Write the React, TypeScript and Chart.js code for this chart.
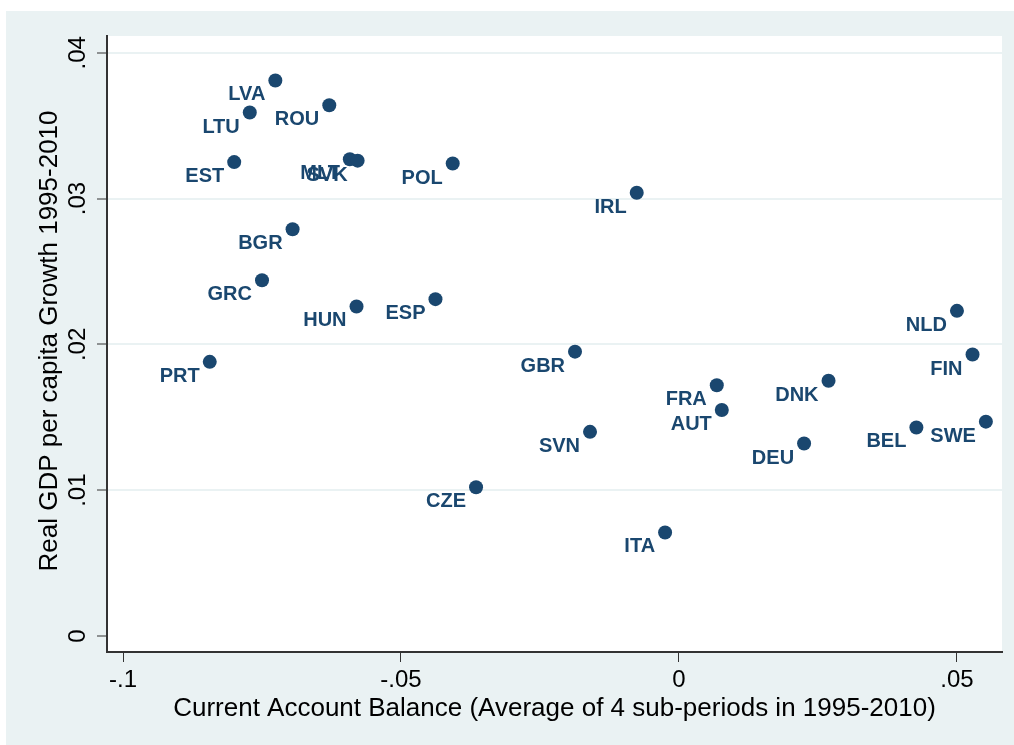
import React, { useEffect, useRef } from 'react';
import { Chart, registerables } from 'chart.js';

Chart.register(...registerables);

const countries = ['LVA', 'ROU', 'LTU', 'EST', 'MLT', 'SVK', 'POL', 'IRL', 'BGR', 'GRC', 'HUN', 'ESP', 'PRT', 'GBR', 'NLD', 'FIN', 'FRA', 'AUT', 'DNK', 'DEU', 'BEL', 'SWE', 'SVN', 'CZE', 'ITA'];
const currentAccount = [-0.0726, -0.0629, -0.0772, -0.0800, -0.0592, -0.0578, -0.0407, -0.0076, -0.0695, -0.0750, -0.0580, -0.0438, -0.0844, -0.0187, 0.0500, 0.0528, 0.0068, 0.0077, 0.0269, 0.0225, 0.0427, 0.0552, -0.0160, -0.0365, -0.0025];
const gdpGrowth = [0.0381, 0.0364, 0.0359, 0.0325, 0.0327, 0.0326, 0.0324, 0.0304, 0.0279, 0.0244, 0.0226, 0.0231, 0.0188, 0.0195, 0.0223, 0.0193, 0.0172, 0.0155, 0.0175, 0.0132, 0.0143, 0.0147, 0.0140, 0.0102, 0.0071];

const xTickValues = [-0.1, -0.05, 0, 0.05];
const xTickLabels = ['-.1', '-.05', '0', '.05'];
const yTickValues = [0, 0.01, 0.02, 0.03, 0.04];
const yTickLabels = ['0', '.01', '.02', '.03', '.04'];
const xTitle = 'Current Account Balance (Average of 4 sub-periods in 1995-2010)';
const yTitle = 'Real GDP per capita Growth 1995-2010';

const BG = '#EAF2F3';
const GRID = '#EAF2F3';
const NAVY = '#1A476F';
const FONT = '"Liberation Sans", Arial, Helvetica, sans-serif';

const decorPlugin = {
  id: 'decor',
  beforeDraw(chart: any) {
    const { ctx, chartArea: a, width, height } = chart;
    ctx.save();
    ctx.fillStyle = '#ffffff';
    ctx.fillRect(0, 0, width, height);
    ctx.fillStyle = BG;
    ctx.fillRect(6, 11, width - 6, height - 11);
    ctx.fillStyle = '#ffffff';
    ctx.fillRect(a.left, a.top, a.right - a.left, a.bottom - a.top);
    ctx.restore();
  },
  afterDatasetsDraw(chart: any) {
    const { ctx } = chart;
    const meta = chart.getDatasetMeta(0);
    ctx.save();
    ctx.fillStyle = NAVY;
    ctx.font = `bold 20px ${FONT}`;
    ctx.textAlign = 'right';
    ctx.textBaseline = 'alphabetic';
    meta.data.forEach((pt: any, i: number) => {
      ctx.fillText(countries[i], pt.x - 10, pt.y + 20);
    });
    ctx.restore();
  },
  afterDraw(chart: any) {
    const { ctx, chartArea: a } = chart;
    const xs = chart.scales.x;
    const ys = chart.scales.y;
    ctx.save();
    ctx.fillStyle = '#000000';
    ctx.font = `24px ${FONT}`;
    ctx.textAlign = 'center';
    ctx.textBaseline = 'alphabetic';
    xTickValues.forEach((v, i) => {
      ctx.fillText(xTickLabels[i], xs.getPixelForValue(v), 687);
    });
    yTickValues.forEach((v, i) => {
      ctx.save();
      ctx.translate(85, ys.getPixelForValue(v));
      ctx.rotate(-Math.PI / 2);
      ctx.fillText(yTickLabels[i], 0, 0);
      ctx.restore();
    });
    ctx.font = `26px ${FONT}`;
    ctx.fillText(xTitle, (a.left + a.right) / 2, 716);
    ctx.save();
    ctx.translate(57, (a.top + a.bottom) / 2 - 3);
    ctx.rotate(-Math.PI / 2);
    ctx.fillText(yTitle, 0, 0);
    ctx.restore();
    ctx.restore();
  },
};

export default function App() {
  const canvasRef = useRef<HTMLCanvasElement | null>(null);

  useEffect(() => {
    if (!canvasRef.current) return;
    const points = currentAccount.map((x, i) => ({ x, y: gdpGrowth[i] }));
    const chart = new Chart(canvasRef.current, {
      type: 'scatter',
      data: {
        datasets: [
          {
            data: points,
            backgroundColor: NAVY,
            borderWidth: 0,
            pointRadius: 7,
            pointHoverRadius: 7,
          },
        ],
      },
      options: {
        animation: false,
        responsive: false,
        devicePixelRatio: 1,
        layout: { padding: { top: 36, right: 12, left: 0, bottom: 0 } },
        plugins: { legend: { display: false }, tooltip: { enabled: false } },
        scales: {
          x: {
            type: 'linear',
            position: 'bottom',
            min: -0.10288,
            max: 0.0581,
            afterBuildTicks: (s: any) => {
              s.ticks = xTickValues.map((v) => ({ value: v }));
            },
            afterFit: (s: any) => {
              s.height = 93;
            },
            ticks: { display: false },
            grid: {
              drawOnChartArea: false,
              drawTicks: true,
              tickLength: 10,
              tickColor: '#333333',
              tickWidth: 1,
            },
            border: { display: true, color: '#333333', width: 2 },
          },
          y: {
            type: 'linear',
            min: -0.0011,
            max: 0.04115,
            afterBuildTicks: (s: any) => {
              s.ticks = yTickValues.map((v) => ({ value: v }));
            },
            afterFit: (s: any) => {
              s.width = 107;
            },
            ticks: { display: false },
            grid: {
              color: (c: any) => (c.tick && c.tick.value === 0 ? 'rgba(0,0,0,0)' : GRID),
              lineWidth: 2,
              drawTicks: true,
              tickLength: 10,
              tickColor: '#333333',
              tickWidth: 1,
            },
            border: { display: true, color: '#333333', width: 2 },
          },
        },
      },
      plugins: [decorPlugin],
    });
    return () => chart.destroy();
  }, []);

  return (
    <div style={{ position: 'absolute', left: 0, top: 0, width: 1014, height: 745 }}>
      <canvas ref={canvasRef} width={1014} height={745} style={{ width: 1014, height: 745, display: 'block' }} />
    </div>
  );
}
